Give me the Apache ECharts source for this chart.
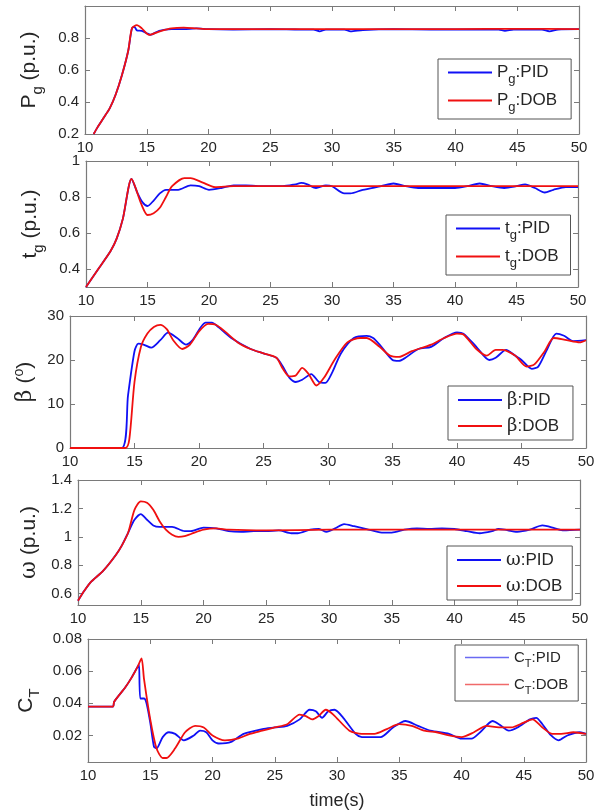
<!DOCTYPE html>
<html><head><meta charset="utf-8">
<script src="https://cdn.jsdelivr.net/npm/echarts@6/dist/echarts.min.js"></script>
<style>html,body{margin:0;padding:0;background:#fff}#c{width:601px;height:811px}</style>
</head><body><div id="c"></div>
<script>
// ---------------- DATA ----------------
const xTicks = [10, 15, 20, 25, 30, 35, 40, 45, 50];

const pgPID = [[10.7,0.2],[11,0.24],[11.5,0.3],[12,0.36],[12.5,0.45],[13,0.57],[13.5,0.72],[13.8,0.86],[14.0,0.87],[14.2,0.848],[14.6,0.845],[15,0.83],[15.3,0.82],[16,0.845],[17,0.855],[18,0.855],[19,0.86],[20,0.855],[22,0.853],[25,0.855],[27,0.853],[28.5,0.852],[29,0.842],[29.5,0.852],[31,0.852],[31.5,0.842],[32.5,0.85],[35,0.855],[38,0.853],[41,0.853],[43.5,0.852],[44,0.845],[44.7,0.853],[47,0.852],[47.6,0.842],[48.3,0.853],[50,0.855]];
const pgDOB = [[10.7,0.2],[11,0.24],[11.5,0.3],[12,0.36],[12.5,0.45],[13,0.57],[13.5,0.72],[13.8,0.86],[14.2,0.88],[14.6,0.86],[15.2,0.82],[16,0.84],[17,0.86],[18,0.865],[19,0.86],[20,0.855],[25,0.856],[30,0.856],[35,0.856],[40,0.856],[45,0.857],[50,0.856]];

const tgPID = [[10,0.3],[11,0.4],[12,0.5],[12.5,0.57],[13,0.68],[13.7,0.9],[14.2,0.82],[14.6,0.77],[15,0.75],[15.5,0.78],[16,0.82],[16.5,0.84],[17.5,0.84],[18.5,0.865],[19.2,0.86],[20,0.84],[21,0.85],[22,0.865],[23,0.865],[24,0.86],[26,0.86],[27,0.87],[27.5,0.878],[28,0.87],[28.7,0.85],[29.5,0.865],[30,0.86],[31,0.82],[31.5,0.82],[32.5,0.84],[34,0.86],[35,0.875],[36,0.86],[37,0.85],[39,0.85],[40,0.85],[41,0.86],[42,0.875],[43,0.86],[44,0.85],[45,0.86],[45.7,0.87],[46.5,0.85],[47.3,0.825],[48,0.84],[49,0.855],[50,0.855]];
const tgDOB = [[10,0.3],[11,0.4],[12,0.5],[12.5,0.57],[13,0.68],[13.7,0.9],[14.5,0.76],[15,0.7],[15.5,0.71],[16,0.74],[16.5,0.8],[17,0.86],[18,0.905],[18.5,0.905],[19.5,0.88],[20.5,0.855],[22,0.86],[25,0.86],[30,0.86],[35,0.86],[40,0.86],[45,0.86],[50,0.86]];

const betaPID = [[10,0],[14.0,0],[14.5,12],[15,22],[15.3,23.7],[15.7,23.5],[16.3,22.8],[17,24.5],[17.6,26.2],[18.3,25],[19,23.5],[19.5,24.5],[20.5,28.5],[21,28.5],[21.5,27.5],[22.5,25],[24,22.5],[25,21.5],[26,20.5],[26.5,18.5],[27,16],[27.5,15],[28,15.5],[28.7,16.8],[29.3,15],[29.8,14.8],[30.3,17],[31,21.5],[32,25],[33,25.5],[33.5,25],[34,23.5],[35,20],[35.5,19.8],[36,20.5],[37,22.5],[38,23],[39,25],[40,26.3],[40.5,26],[41.5,23],[42.5,20],[43,20.5],[43.8,22.3],[44.5,21],[45,20],[45.8,18],[46.3,18.5],[47,22.5],[47.7,26],[48.3,25.5],[49,24.3],[50,24.5]];
const betaDOB = [[10,0],[14.3,0],[14.6,2],[15,15],[15.5,23],[16,26],[16.5,27.5],[17,28],[17.5,27],[18,24.5],[18.7,22.5],[19.3,23.5],[20,26.5],[20.7,28.2],[21.3,28],[22,26.5],[23,24],[24,22.5],[25,21.5],[26,20.5],[26.5,18],[27,16.3],[27.5,16.5],[28,18.2],[28.5,16.8],[29.1,14.2],[29.7,16],[30.5,20],[31.5,24],[32.5,25],[33,25],[34,23],[34.8,21],[35.5,20.7],[36.5,22],[38,23.5],[39,25],[40,26],[40.5,25.8],[41.5,22.5],[42.3,21],[43,22.3],[43.5,22.3],[44.5,21],[45.4,18.5],[46,19],[46.8,22],[47.5,25],[48.5,24.5],[49.5,24],[50,24.5]];

const wPID = [[10,0.55],[10.5,0.62],[11,0.68],[12,0.76],[13,0.87],[13.5,0.94],[14,1.03],[14.5,1.12],[15,1.16],[15.5,1.12],[16,1.08],[16.5,1.07],[17.5,1.07],[18.5,1.04],[19,1.04],[20,1.065],[21,1.06],[22,1.04],[23,1.035],[24,1.04],[25,1.04],[26,1.045],[27,1.025],[27.5,1.025],[28.5,1.05],[29.2,1.055],[29.8,1.035],[30.5,1.06],[31.2,1.09],[32,1.075],[33,1.055],[34.2,1.03],[35,1.03],[36,1.05],[37,1.06],[38,1.055],[39,1.06],[40,1.055],[41,1.04],[42,1.025],[43,1.04],[43.5,1.055],[44,1.05],[45,1.035],[46,1.05],[47,1.08],[48,1.06],[48.7,1.045],[50,1.05]];
const wDOB = [[10,0.55],[10.5,0.62],[11,0.68],[12,0.76],[13,0.87],[13.5,0.94],[14,1.03],[14.5,1.19],[15,1.25],[15.5,1.24],[16,1.19],[16.5,1.11],[17,1.05],[17.5,1.015],[18,1.0],[18.5,1.005],[19,1.02],[20,1.05],[21,1.06],[22,1.05],[25,1.045],[30,1.05],[35,1.05],[40,1.05],[45,1.05],[50,1.05]];

const ctPID = [[10,0.038],[12,0.038],[12.1,0.041],[13,0.05],[13.5,0.056],[14,0.063],[14.1,0.064],[14.2,0.043],[14.5,0.043],[14.7,0.04],[15,0.028],[15.3,0.013],[15.5,0.012],[16,0.019],[16.5,0.022],[17,0.021],[17.7,0.017],[18.5,0.02],[19,0.023],[19.5,0.022],[20,0.017],[20.5,0.015],[21.5,0.016],[22.5,0.021],[24,0.024],[25,0.025],[26,0.026],[27,0.03],[27.8,0.036],[28.3,0.035],[28.8,0.031],[29.3,0.035],[29.8,0.036],[30.5,0.031],[31.5,0.021],[32,0.019],[33.5,0.019],[34.5,0.025],[35.5,0.029],[36.5,0.026],[37.5,0.023],[39,0.021],[40,0.018],[40.8,0.018],[41.5,0.022],[42.5,0.029],[43,0.027],[43.8,0.023],[44.5,0.025],[45.5,0.03],[46,0.031],[46.5,0.027],[47.2,0.02],[47.8,0.017],[48.5,0.02],[49.5,0.022],[50,0.021]];
const ctDOB = [[10,0.038],[12,0.038],[12.1,0.041],[13,0.05],[13.5,0.056],[14,0.063],[14.3,0.068],[14.5,0.055],[15,0.03],[15.5,0.012],[16,0.006],[16.3,0.006],[17,0.012],[17.8,0.022],[18.6,0.026],[19.3,0.025],[20,0.02],[21,0.017],[22,0.018],[23,0.021],[24,0.023],[25,0.025],[26,0.027],[27,0.033],[27.5,0.032],[28,0.03],[28.5,0.032],[29.1,0.036],[29.7,0.033],[31,0.023],[32,0.021],[33,0.021],[34,0.024],[35,0.027],[36,0.026],[37,0.023],[38,0.022],[39,0.02],[40,0.019],[41,0.022],[42,0.026],[43,0.025],[44,0.025],[45,0.028],[45.7,0.03],[46.5,0.025],[47.3,0.021],[48,0.021],[49,0.022],[50,0.021]];

const pgTicks = [0.2, 0.4, 0.6, 0.8];
const tgTicks = [0.4, 0.6, 0.8, 1];
const betaTicks = [0, 10, 20, 30];
const wTicks = [0.6, 0.8, 1, 1.2, 1.4];
const ctTicks = [0.02, 0.04, 0.06, 0.08];

// ---------------- LAYOUT ----------------
const FONT = 'Liberation Sans, Arial, sans-serif';
const BLUE = '#1010f5', RED = '#f01010';
const AX = '#7a7a7a', TXT = '#262626';

const legendRich = {
  m: {fontSize: 17, fontFamily: FONT, color: TXT},
  s: {fontSize: 13, fontFamily: FONT, color: TXT, padding: [14, 0, 0, 0]},
  ms: {fontSize: 15, fontFamily: FONT, color: TXT},
  ss: {fontSize: 11, fontFamily: FONT, color: TXT, padding: [12, 0, 0, 0]},
  g: {fontSize: 18, fontFamily: 'DejaVu Serif, serif', color: TXT, lineHeight: 26}
};
const legendLabels = {
  'Pg:PID': '{m|P}{s|g}{m|:PID}', 'Pg:DOB': '{m|P}{s|g}{m|:DOB}',
  'tg:PID': '{m|t}{s|g}{m|:PID}', 'tg:DOB': '{m|t}{s|g}{m|:DOB}',
  'b:PID': '{g|β}{m|:PID}', 'b:DOB': '{g|β}{m|:DOB}',
  'w:PID': '{g|ω}{m|:PID}', 'w:DOB': '{g|ω}{m|:DOB}',
  'CT:PID': '{ms|C}{ss|T}{ms|:PID}', 'CT:DOB': '{ms|C}{ss|T}{ms|:DOB}'
};

const panels = [
  {grid: {left: 85, top: 6, width: 494, height: 128}, min: 0.2, max: 1, ticks: pgTicks, fmt: v => String(+v.toFixed(2)),
   name: '{a|P}{b|g}{a| (p.u.)}', nameGap: 40,
   ser: [['Pg:PID', pgPID, BLUE], ['Pg:DOB', pgDOB, RED]], lg: {left: 438, top: 59}, pad: [5, 14, 5, 10], gap: 6},
  {grid: {left: 86, top: 161, width: 492, height: 126}, min: 0.3, max: 1, ticks: tgTicks, fmt: v => String(+v.toFixed(2)),
   name: '{a|t}{b|g}{a| (p.u.)}', nameGap: 40,
   ser: [['tg:PID', tgPID, BLUE], ['tg:DOB', tgDOB, RED]], lg: {left: 446, top: 215}, pad: [5, 12, 5, 10], gap: 6},
  {grid: {left: 70, top: 316, width: 516, height: 132}, min: 0, max: 30, ticks: betaTicks, fmt: v => String(v),
   name: '{g|β}{a| (}{p|o}{a|)}', nameGap: 26,
   ser: [['b:PID', betaPID, BLUE], ['b:DOB', betaDOB, RED]], lg: {left: 448, top: 386}, pad: [5, 14, 5, 10], gap: 8},
  {grid: {left: 78, top: 480, width: 502, height: 125}, min: 0.52, max: 1.4, ticks: wTicks, fmt: v => String(+v.toFixed(2)),
   name: '{g|ω}{a| (p.u.)}', nameGap: 34,
   ser: [['w:PID', wPID, BLUE], ['w:DOB', wDOB, RED]], lg: {left: 447, top: 546}, pad: [5, 10, 5, 10], gap: 8},
  {grid: {left: 88, top: 639, width: 498, height: 123}, min: 0.0035, max: 0.08, ticks: ctTicks, fmt: v => v.toFixed(2),
   name: '{a|C}{b|T}', nameGap: 46,
   ser: [['CT:PID', ctPID, BLUE], ['CT:DOB', ctDOB, RED]], lg: {left: 455, top: 645}, pad: [5, 10, 5, 10], gap: 8, thin: true}
];
const thinLegendColors = {'CT:PID': '#6a6af2', 'CT:DOB': '#f06a6a'};

const nameRich = {
  a: {fontSize: 21, fontFamily: FONT, color: TXT},
  b: {fontSize: 15, fontFamily: FONT, color: TXT, padding: [16, 0, 0, 0]},
  g: {fontSize: 22, fontFamily: 'DejaVu Serif, serif', color: TXT},
  p: {fontSize: 14, fontFamily: FONT, color: TXT, padding: [0, 0, 12, 0]}
};

const option = {animation: false, backgroundColor: '#fff', grid: [], xAxis: [], yAxis: [], series: [], legend: []};

panels.forEach((p, i) => {
  option.grid.push(Object.assign({containLabel: false, show: false}, p.grid));
  const last = i === panels.length - 1;
  const tick = {show: true, inside: true, length: 5, lineStyle: {color: AX}};
  option.xAxis.push({
    type: 'value', gridIndex: i, min: 10, max: 50, interval: 5, position: 'bottom',
    axisLine: {show: true, onZero: false, lineStyle: {color: AX, width: 1.2}},
    axisTick: tick, splitLine: {show: false},
    axisLabel: {color: TXT, fontSize: 15, fontFamily: FONT, margin: 6},
    name: last ? 'time(s)' : '', nameLocation: 'middle', nameGap: 30,
    nameTextStyle: {fontSize: 18, fontFamily: FONT, color: TXT}
  });
  option.xAxis.push({
    type: 'value', gridIndex: i, min: 10, max: 50, interval: 5, position: 'top',
    axisLine: {show: true, onZero: false, lineStyle: {color: AX, width: 1.2}},
    axisTick: tick, splitLine: {show: false}, axisLabel: {show: false}
  });
  option.yAxis.push({
    type: 'value', gridIndex: i, min: p.min, max: p.max, position: 'left',
    axisLine: {show: true, onZero: false, lineStyle: {color: AX, width: 1.2}},
    axisTick: Object.assign({customValues: p.ticks}, tick), splitLine: {show: false},
    axisLabel: {color: TXT, fontSize: 15, fontFamily: FONT, margin: 6, customValues: p.ticks, formatter: p.fmt},
    name: p.name, nameLocation: 'middle', nameRotate: 90, nameGap: p.nameGap,
    nameTextStyle: {rich: nameRich}
  });
  option.yAxis.push({
    type: 'value', gridIndex: i, min: p.min, max: p.max, position: 'right',
    axisLine: {show: true, onZero: false, lineStyle: {color: AX, width: 1.2}},
    axisTick: Object.assign({customValues: p.ticks}, tick), splitLine: {show: false}, axisLabel: {show: false}
  });
  p.ser.forEach(([nm, data, col]) => {
    option.series.push({
      type: 'line', name: nm, xAxisIndex: 2 * i, yAxisIndex: 2 * i, data: data,
      symbol: 'none', smooth: 0.25, lineStyle: {color: col, width: 1.8}, itemStyle: {color: col},
      clip: true
    });
  });
  option.legend.push({
    data: p.ser.map(s => p.thin ? {name: s[0], itemStyle: {color: thinLegendColors[s[0]]}} : s[0]),
    orient: 'vertical', left: p.lg.left, top: p.lg.top,
    backgroundColor: '#fff', borderColor: '#555', borderWidth: 1, borderRadius: 0,
    padding: p.pad, itemGap: p.gap, icon: 'rect', itemWidth: 44, itemHeight: p.thin ? 1.5 : 2, align: 'left',
    selectedMode: false,
    formatter: n => legendLabels[n],
    textStyle: {rich: legendRich, padding: [0, 0, 0, 0]}
  });
});

const chart = echarts.init(document.getElementById('c'), null, {renderer: 'canvas'});
chart.setOption(option);
</script></body></html>
